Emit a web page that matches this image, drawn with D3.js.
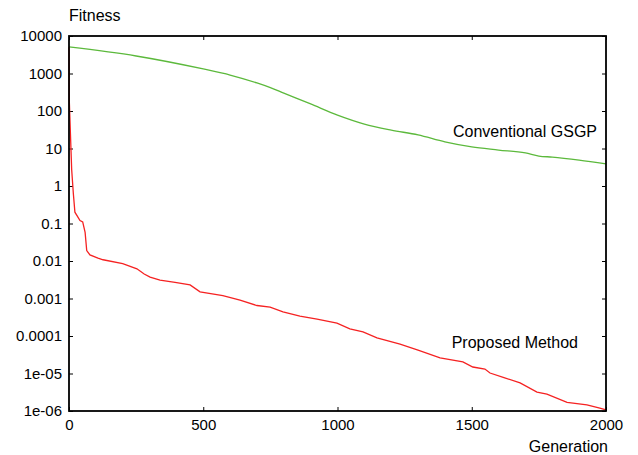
<!DOCTYPE html>
<html>
<head>
<meta charset="utf-8">
<script src="https://cdn.jsdelivr.net/npm/d3@7"></script>
<style>
  body { margin: 0; background: #fff; }
  svg { display: block; font-family: "Liberation Sans", Arial, sans-serif; }
</style>
</head>
<body>
<svg id="chart"></svg>
<script>
// generations and fitness values
var gsgpGen = [0, 250, 500, 600, 700, 750, 800, 900, 1000, 1100, 1200, 1300, 1400, 1500, 1600, 1700, 1750, 1800, 1900, 2000];
var gsgpFit = [5100, 2930, 1320, 910, 560, 420, 300, 154, 78, 45, 31, 23, 15, 11, 9.1, 7.6, 6.3, 5.9, 4.9, 3.9];

var propGen = [0, 1, 10, 16, 22, 41, 51, 60, 66, 78, 108, 127, 200, 253, 280, 302, 339, 395, 451, 488, 573, 637, 700, 749, 797, 860, 924, 998, 1046, 1095, 1147, 1233, 1300, 1382, 1467, 1504, 1549, 1568, 1620, 1680, 1743, 1780, 1855, 1929, 1977, 2000];
var propFit = [5000, 195, 2.7, 0.65, 0.2, 0.12, 0.11, 0.058, 0.019, 0.0145, 0.012, 0.0108, 0.0085, 0.0062, 0.0045, 0.0037, 0.0031, 0.0027, 0.0023, 0.0015, 0.0012, 0.00091, 0.00065, 0.00059, 0.00044, 0.00034, 0.00028, 0.00022, 0.000155, 0.000129, 0.000089, 0.000061, 0.000042, 0.000026, 0.0000204, 0.0000149, 0.0000131, 0.0000103, 0.0000078, 0.0000056, 0.0000032, 0.0000028, 0.0000017, 0.00000145, 0.0000012, 0.00000107];

var xTicks = [0, 500, 1000, 1500, 2000];
var yTicks = [1e-6, 1e-5, 1e-4, 1e-3, 1e-2, 1e-1, 1, 10, 100, 1000, 10000];
var yLabels = ["1e-06", "1e-05", "0.0001", "0.001", "0.01", "0.1", "1", "10", "100", "1000", "10000"];

var width = 638,
    height = 455,
    margin = {top: 36, right: 32, bottom: 44, left: 69};

var svg = d3.select("#chart")
    .attr("width", width)
    .attr("height", height);

var x = d3.scaleLinear()
    .domain([0, 2000])
    .range([margin.left, width - margin.right]);

var y = d3.scaleLog()
    .domain([1e-6, 1e4])
    .range([height - margin.bottom, margin.top]);

var yFmt = (d) => yLabels[yTicks.indexOf(d)];

// axes, ticks pointing inward
svg.append("g")
    .attr("transform", `translate(0, ${height - margin.bottom})`)
    .call(d3.axisBottom(x).tickValues(xTicks).tickFormat(d3.format("d")).tickSize(-4).tickPadding(8))
    .call(g => g.select(".domain").remove());

svg.append("g")
    .attr("transform", `translate(0, ${margin.top})`)
    .call(d3.axisTop(x).tickValues(xTicks).tickSize(-4).tickFormat(""))
    .call(g => g.select(".domain").remove());

svg.append("g")
    .attr("transform", `translate(${margin.left}, 0)`)
    .call(d3.axisLeft(y).tickValues(yTicks).tickFormat(yFmt).tickSize(-4).tickPadding(7))
    .call(g => g.select(".domain").remove());

svg.append("g")
    .attr("transform", `translate(${width - margin.right}, 0)`)
    .call(d3.axisRight(y).tickValues(yTicks).tickFormat("").tickSize(-4))
    .call(g => g.select(".domain").remove());

svg.selectAll(".tick text")
    .attr("font-size", 15)
    .attr("font-family", "Liberation Sans, Arial, sans-serif")
    .attr("fill", "#000");
svg.selectAll(".tick line").attr("stroke", "#000");

// lines
var line = d3.line()
    .x(d => x(d[0]))
    .y(d => y(d[1]));

svg.append("path")
    .datum(d3.zip(gsgpGen, gsgpFit))
    .attr("fill", "none")
    .attr("stroke", "#5cb93c")
    .attr("stroke-width", 1.3)
    .attr("d", line.curve(d3.curveMonotoneX));

svg.append("path")
    .datum(d3.zip(propGen, propFit))
    .attr("fill", "none")
    .attr("stroke", "#f52222")
    .attr("stroke-width", 1.3)
    .attr("d", line.curve(d3.curveLinear));

// frame
svg.append("rect")
    .attr("x", margin.left)
    .attr("y", margin.top)
    .attr("width", width - margin.left - margin.right)
    .attr("height", height - margin.top - margin.bottom)
    .attr("fill", "none")
    .attr("stroke", "#000")
    .attr("stroke-width", 1.8);

// labels
svg.append("text")
    .attr("x", 69)
    .attr("y", 21)
    .attr("font-size", 16)
    .text("Fitness");

svg.append("text")
    .attr("x", 608)
    .attr("y", 452)
    .attr("text-anchor", "end")
    .attr("font-size", 16)
    .text("Generation");

svg.append("text")
    .attr("x", 597)
    .attr("y", 137)
    .attr("text-anchor", "end")
    .attr("font-size", 16)
    .text("Conventional GSGP");

svg.append("text")
    .attr("x", 578)
    .attr("y", 348)
    .attr("text-anchor", "end")
    .attr("font-size", 16)
    .text("Proposed Method");
</script>
</body>
</html>
